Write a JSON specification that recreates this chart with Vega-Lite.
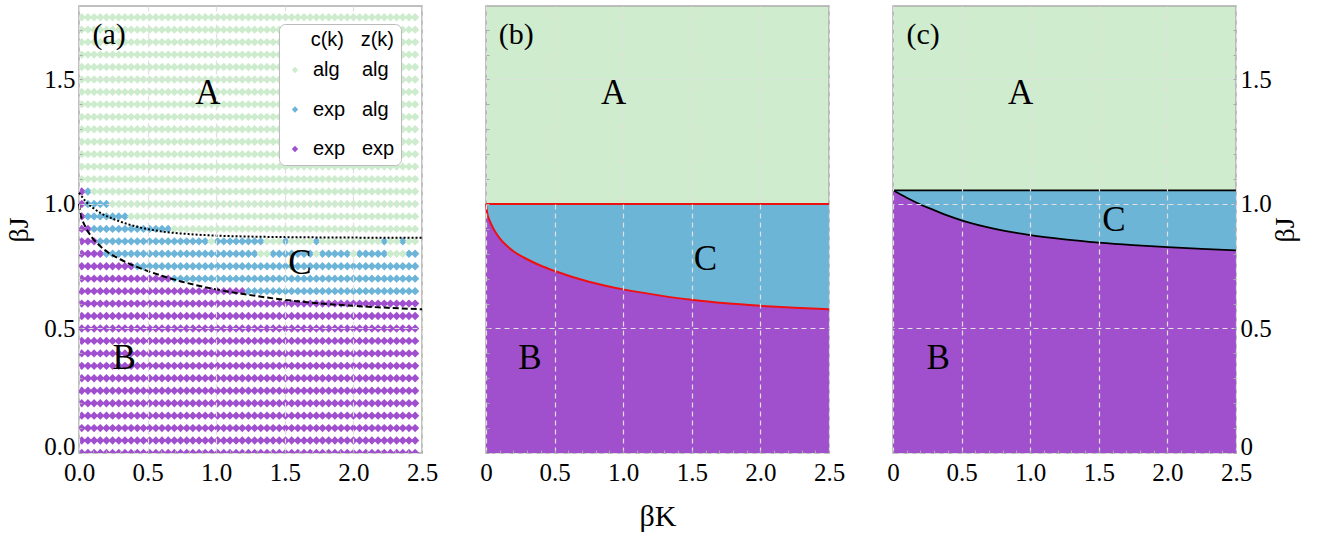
{
  "$schema": "https://vega.github.io/schema/vega-lite/v6.json",
  "background": "white",
  "padding": {"left": 5, "top": 5, "right": 5, "bottom": 5},
  "bounds": "flush",
  "spacing": 64,
  "datasets": {
    "grid": [
      {"c": "A", "j": [1.1,1.15,1.2,1.25,1.3,1.35,1.4,1.45,1.5,1.55,1.6,1.65,1.7,1.75], "k": [0.02,0.065,0.11,0.155,0.2,0.245,0.29,0.335,0.38,0.425,0.47,0.515,0.56,0.605,0.65,0.695,0.74,0.785,0.83,0.875,0.92,0.965,1.01,1.055,1.1,1.145,1.19,1.235,1.28,1.325,1.37,1.415,1.46,1.505,1.55,1.595,1.64,1.685,1.73,1.775,1.82,1.865,1.91,1.955,2.0,2.045,2.09,2.135,2.18,2.225,2.27,2.315,2.36,2.405,2.45]},
      {"c": "B", "j": [0,0.05,0.1,0.15,0.2,0.25,0.3,0.35,0.4,0.45,0.5,0.55,0.6], "k": [0.02,0.065,0.11,0.155,0.2,0.245,0.29,0.335,0.38,0.425,0.47,0.515,0.56,0.605,0.65,0.695,0.74,0.785,0.83,0.875,0.92,0.965,1.01,1.055,1.1,1.145,1.19,1.235,1.28,1.325,1.37,1.415,1.46,1.505,1.55,1.595,1.64,1.685,1.73,1.775,1.82,1.865,1.91,1.955,2.0,2.045,2.09,2.135,2.18,2.225,2.27,2.315,2.36,2.405,2.45]},
      {"c": "B", "j": [1.05], "k": [0.02]},
      {"c": "C", "j": [1.05], "k": [0.065]},
      {"c": "A", "j": [1.05], "k": [0.11,0.155,0.2,0.245,0.29,0.335,0.38,0.425,0.47,0.515,0.56,0.605,0.65,0.695,0.74,0.785,0.83,0.875,0.92,0.965,1.01,1.055,1.1,1.145,1.19,1.235,1.28,1.325,1.37,1.415,1.46,1.505,1.55,1.595,1.64,1.685,1.73,1.775,1.82,1.865,1.91,1.955,2.0,2.045,2.09,2.135,2.18,2.225,2.27,2.315,2.36,2.405,2.45]},
      {"c": "B", "j": [1.0], "k": [0.02]},
      {"c": "C", "j": [1.0], "k": [0.065,0.11,0.155,0.2]},
      {"c": "A", "j": [1.0], "k": [0.245,0.29,0.335,0.38,0.425,0.47,0.515,0.56,0.605,0.65,0.695,0.74,0.785,0.83,0.875,0.92,0.965,1.01,1.055,1.1,1.145,1.19,1.235,1.28,1.325,1.37,1.415,1.46,1.505,1.55,1.595,1.64,1.685,1.73,1.775,1.82,1.865,1.91,1.955,2.0,2.045,2.09,2.135,2.18,2.225,2.27,2.315,2.36,2.405,2.45]},
      {"c": "B", "j": [0.95], "k": [0.02]},
      {"c": "C", "j": [0.95], "k": [0.065,0.11,0.155,0.2,0.245,0.29,0.335]},
      {"c": "A", "j": [0.95], "k": [0.38,0.425,0.47,0.515,0.56,0.605,0.65,0.695,0.74,0.785,0.83,0.875,0.92,0.965,1.01,1.055,1.1,1.145,1.19,1.235,1.28,1.325,1.37,1.415,1.46,1.505,1.55,1.595,1.64,1.685,1.73,1.775,1.82,1.865,1.91,1.955,2.0,2.045,2.09,2.135,2.18,2.225,2.27,2.315,2.36,2.405,2.45]},
      {"c": "B", "j": [0.9], "k": [0.02,0.065]},
      {"c": "C", "j": [0.9], "k": [0.11,0.155,0.2,0.245,0.29,0.335,0.38,0.425,0.47,0.515,0.56,0.605,0.65]},
      {"c": "A", "j": [0.9], "k": [0.695,0.74,0.785,0.83,0.875,0.92,0.965,1.01,1.055,1.1,1.145,1.19,1.235,1.28,1.325,1.37,1.415,1.46,1.505,1.55,1.595,1.64,1.685,1.73,1.775,1.82,1.865,1.91,1.955,2.0,2.045,2.09,2.135,2.18,2.225,2.27,2.315,2.36,2.405,2.45]},
      {"c": "B", "j": [0.85], "k": [0.02,0.065,0.11]},
      {"c": "C", "j": [0.85], "k": [0.155,0.2,0.245,0.29,0.335,0.38,0.425,0.47,0.515,0.56,0.605,0.65,0.695,0.74,0.785,0.83,0.875,0.92,1.01,1.055,1.1,1.145,1.19,1.235,1.28,1.325,1.505,1.73,2.225,2.36]},
      {"c": "A", "j": [0.85], "k": [0.965,1.37,1.415,1.46,1.55,1.595,1.64,1.685,1.775,1.82,1.865,1.91,1.955,2.0,2.045,2.09,2.135,2.18,2.27,2.315,2.405,2.45]},
      {"c": "B", "j": [0.8], "k": [0.02,0.065,0.11,0.155]},
      {"c": "C", "j": [0.8], "k": [0.2,0.245,0.29,0.335,0.38,0.425,0.47,0.515,0.56,0.605,0.65,0.695,0.74,0.785,0.83,0.875,0.92,0.965,1.01,1.055,1.1,1.145,1.19,1.235,1.28,1.415,1.46,1.505,1.55,1.595,1.64,1.685,1.775,1.82,1.865,1.91,1.955,2.045,2.09,2.135,2.18,2.225,2.405,2.45]},
      {"c": "A", "j": [0.8], "k": [1.325,1.37,1.73,2.0,2.27,2.315,2.36]},
      {"c": "B", "j": [0.75], "k": [0.02,0.065,0.11,0.155,0.2,0.245,0.29,0.335,0.38]},
      {"c": "C", "j": [0.75], "k": [0.425,0.47,0.515,0.56,0.605,0.65,0.695,0.74,0.785,0.83,0.875,0.92,0.965,1.01,1.055,1.1,1.145,1.19,1.235,1.28,1.325,1.37,1.415,1.46,1.505,1.55,1.595,1.64,1.685,1.73,1.775,1.82,1.865,1.91,1.955,2.0,2.045,2.09,2.135,2.18,2.225,2.27,2.315,2.36,2.405,2.45]},
      {"c": "B", "j": [0.7], "k": [0.02,0.065,0.11,0.155,0.2,0.245,0.29,0.335,0.38,0.425,0.47,0.515,0.56,0.605,0.65]},
      {"c": "C", "j": [0.7], "k": [0.695,0.74,0.785,0.83,0.875,0.92,0.965,1.01,1.055,1.1,1.145,1.19,1.235,1.28,1.325,1.37,1.415,1.46,1.505,1.55,1.595,1.64,1.685,1.73,1.775,1.82,1.865,1.91,1.955,2.0,2.045,2.09,2.135,2.18,2.225,2.27,2.315,2.36,2.405,2.45]},
      {"c": "B", "j": [0.65], "k": [0.02,0.065,0.11,0.155,0.2,0.245,0.29,0.335,0.38,0.425,0.47,0.515,0.56,0.605,0.65,0.695,0.74,0.785,0.83,0.875,0.92,0.965,1.01,1.055,1.1,1.145,1.19]},
      {"c": "C", "j": [0.65], "k": [1.235,1.28,1.325,1.37,1.415,1.46,1.505,1.55,1.595,1.64,1.685,1.73,1.775,1.82,1.865,1.91,1.955,2.0,2.045,2.09,2.135,2.18,2.225,2.27,2.315,2.36,2.405,2.45]}
    ],
    "lower": [
      {"k": 0, "j": 1.0}, {"k": 0.01, "j": 0.96}, {"k": 0.025, "j": 0.935}, {"k": 0.05, "j": 0.905},
      {"k": 0.1, "j": 0.862}, {"k": 0.15, "j": 0.833}, {"k": 0.2, "j": 0.81}, {"k": 0.3, "j": 0.778},
      {"k": 0.4, "j": 0.752}, {"k": 0.5, "j": 0.731}, {"k": 0.75, "j": 0.688}, {"k": 1.0, "j": 0.657},
      {"k": 1.25, "j": 0.634}, {"k": 1.5, "j": 0.615}, {"k": 1.75, "j": 0.601}, {"k": 2.0, "j": 0.591},
      {"k": 2.25, "j": 0.583}, {"k": 2.5, "j": 0.577}
    ],
    "upperA": [
      {"k": 0, "j": 1.045}, {"k": 0.05, "j": 1.01}, {"k": 0.1, "j": 0.985}, {"k": 0.17, "j": 0.96},
      {"k": 0.25, "j": 0.94}, {"k": 0.35, "j": 0.92}, {"k": 0.45, "j": 0.905}, {"k": 0.6, "j": 0.89},
      {"k": 0.8, "j": 0.879}, {"k": 1.0, "j": 0.873}, {"k": 1.25, "j": 0.869}, {"k": 1.5, "j": 0.867},
      {"k": 2.0, "j": 0.865}, {"k": 2.5, "j": 0.864}
    ],
    "bandB": [
      {"k": 0, "lo": 1.0, "hi": 1.0}, {"k": 0.01, "lo": 0.96, "hi": 1.0}, {"k": 0.025, "lo": 0.935, "hi": 1.0},
      {"k": 0.05, "lo": 0.905, "hi": 1.0}, {"k": 0.1, "lo": 0.862, "hi": 1.0}, {"k": 0.15, "lo": 0.833, "hi": 1.0},
      {"k": 0.2, "lo": 0.81, "hi": 1.0}, {"k": 0.3, "lo": 0.778, "hi": 1.0}, {"k": 0.4, "lo": 0.752, "hi": 1.0},
      {"k": 0.5, "lo": 0.731, "hi": 1.0}, {"k": 0.75, "lo": 0.688, "hi": 1.0}, {"k": 1.0, "lo": 0.657, "hi": 1.0},
      {"k": 1.25, "lo": 0.634, "hi": 1.0}, {"k": 1.5, "lo": 0.615, "hi": 1.0}, {"k": 1.75, "lo": 0.601, "hi": 1.0},
      {"k": 2.0, "lo": 0.591, "hi": 1.0}, {"k": 2.25, "lo": 0.583, "hi": 1.0}, {"k": 2.5, "lo": 0.577, "hi": 1.0}
    ],
    "bandC": [
      {"k": 0, "lo": 1.055, "hi": 1.055}, {"k": 0.1, "lo": 1.025, "hi": 1.055}, {"k": 0.2, "lo": 0.998, "hi": 1.055},
      {"k": 0.3, "lo": 0.975, "hi": 1.055}, {"k": 0.4, "lo": 0.953, "hi": 1.055}, {"k": 0.5, "lo": 0.934, "hi": 1.055},
      {"k": 0.75, "lo": 0.899, "hi": 1.055}, {"k": 1.0, "lo": 0.875, "hi": 1.055}, {"k": 1.25, "lo": 0.858, "hi": 1.055},
      {"k": 1.5, "lo": 0.845, "hi": 1.055}, {"k": 1.75, "lo": 0.835, "hi": 1.055}, {"k": 2.0, "lo": 0.827, "hi": 1.055},
      {"k": 2.25, "lo": 0.82, "hi": 1.055}, {"k": 2.5, "lo": 0.814, "hi": 1.055}
    ]
  },
  "config": {
    "view": {"stroke": "#aaaaaa", "strokeWidth": 1.5}
  },
  "hconcat": [
    {
      "width": 343, "height": 447,
      "layer": [
        {
          "data": {"name": "grid"},
          "transform": [{"flatten": ["j"]}, {"flatten": ["k"]}],
          "mark": {"type": "point", "shape": "diamond", "filled": true, "size": 70, "opacity": 1, "clip": true},
          "encoding": {
            "x": {"field": "k", "type": "quantitative", "scale": {"domain": [0, 2.5], "nice": false, "zero": false},
              "axis": {"title": null, "tickCount": 100, "values": [0,0.1,0.2,0.3,0.4,0.5,0.6,0.7,0.8,0.9,1,1.1,1.2,1.3,1.4,1.5,1.6,1.7,1.8,1.9,2,2.1,2.2,2.3,2.4,2.5],
                "labelExpr": "abs(datum.value*2-round(datum.value*2))<0.001 ? format(datum.value,'.1f') : ''",
                "gridOpacity": {"condition": {"test": "abs(datum.value*2-round(datum.value*2))<0.001", "value": 1}, "value": 0},
                "labelFont": "Liberation Serif", "labelFontSize": 25, "labelColor": "black", "labelPadding": 10,
                "domain": false, "grid": true, "gridColor": "#e0e0e0", "gridDash": [5, 4], "gridWidth": 1.2,
                "ticks": true, "tickColor": "#aaaaaa", "tickSize": -3, "labelOverlap": false, "labelFlush": false, "labelBound": false, "zindex": 1}},
            "y": {"field": "j", "type": "quantitative", "scale": {"domain": [0, 1.795], "nice": false, "zero": false},
              "axis": {"title": "βJ", "tickCount": 100, "values": [0,0.1,0.2,0.3,0.4,0.5,0.6,0.7,0.8,0.9,1,1.1,1.2,1.3,1.4,1.5,1.6,1.7],
                "labelExpr": "abs(datum.value*2-round(datum.value*2))<0.001 ? format(datum.value,'.1f') : ''",
                "gridOpacity": {"condition": {"test": "abs(datum.value*2-round(datum.value*2))<0.001", "value": 1}, "value": 0},
                "labelOffset": {"condition": {"test": "datum.value==0", "value": -7}, "value": 0},
                "labelFont": "Liberation Serif", "labelFontSize": 25, "labelColor": "black", "labelPadding": 7,
                "titleFont": "Liberation Serif", "titleFontSize": 28, "titleFontWeight": "normal", "titleColor": "black", "titlePadding": 10,
                "domain": false, "grid": true, "gridColor": "#e0e0e0", "gridDash": [5, 4], "gridWidth": 1.2,
                "ticks": true, "tickColor": "#aaaaaa", "tickSize": -3, "labelOverlap": false, "labelBound": false, "zindex": 1}},
            "color": {"field": "c", "type": "nominal",
              "scale": {"domain": ["A", "C", "B"], "range": ["#cdeccd", "#6cb4d8", "#a04fcf"]},
              "legend": {"orient": "none", "legendX": 200, "legendY": 18,
                "title": "c(k)\u00a0\u00a0\u00a0z(k)", "titleFont": "Liberation Sans", "titleFontSize": 20, "titleFontWeight": "normal", "titleColor": "black",
                "titleAnchor": "end", "titlePadding": 10,
                "labelFont": "Liberation Sans", "labelFontSize": 20, "labelColor": "black",
                "labelExpr": "datum.value=='A' ? 'alg\u00a0\u00a0\u00a0\u00a0alg' : datum.value=='C' ? 'exp\u00a0\u00a0\u00a0alg' : 'exp\u00a0\u00a0\u00a0exp'",
                "symbolType": "diamond", "symbolSize": 40, "symbolStrokeWidth": 0, "rowPadding": 19.5, "labelOffset": 8,
                "padding": 6, "fillColor": "white", "strokeColor": "#bbbbbb", "cornerRadius": 6}}
          }
        },
        {
          "data": {"name": "upperA"},
          "mark": {"type": "line", "color": "black", "strokeWidth": 2, "strokeDash": [2, 2], "interpolate": "monotone"},
          "encoding": {"x": {"field": "k", "type": "quantitative"}, "y": {"field": "j", "type": "quantitative"}}
        },
        {
          "data": {"name": "lower"},
          "mark": {"type": "line", "color": "black", "strokeWidth": 2, "strokeDash": [6, 3], "interpolate": "monotone"},
          "encoding": {"x": {"field": "k", "type": "quantitative"}, "y": {"field": "j", "type": "quantitative"}}
        },
        {
          "data": {"values": [
            {"k": 0.22, "j": 1.68, "t": "(a)", "s": "p"},
            {"k": 0.94, "j": 1.444, "t": "A", "s": "r"},
            {"k": 0.33, "j": 0.383, "t": "B", "s": "r"},
            {"k": 1.61, "j": 0.761, "t": "C", "s": "r"}
          ]},
          "mark": {"type": "text", "baseline": "middle", "align": "center", "font": "Liberation Serif", "color": "black"},
          "encoding": {
            "x": {"field": "k", "type": "quantitative"}, "y": {"field": "j", "type": "quantitative"},
            "text": {"field": "t"},
            "size": {"field": "s", "type": "nominal", "scale": {"domain": ["p", "r"], "range": [30, 35]}, "legend": null}
          }
        }
      ]
    },
    {
      "width": 343, "height": 447,
      "view": {"fill": "#cfeccf"},
      "layer": [
        {
          "data": {"name": "bandB"},
          "mark": {"type": "area", "color": "#a050cc", "interpolate": "monotone", "opacity": 1},
          "encoding": {
            "x": {"field": "k", "type": "quantitative", "scale": {"domain": [0, 2.5], "nice": false, "zero": false},
              "axis": {"title": "βK", "tickCount": 100, "values": [0,0.1,0.2,0.3,0.4,0.5,0.6,0.7,0.8,0.9,1,1.1,1.2,1.3,1.4,1.5,1.6,1.7,1.8,1.9,2,2.1,2.2,2.3,2.4,2.5],
                "labelExpr": "datum.value==0 ? '0' : abs(datum.value*2-round(datum.value*2))<0.001 ? format(datum.value,'.1f') : ''",
                "gridOpacity": {"condition": {"test": "abs(datum.value*2-round(datum.value*2))<0.001", "value": 1}, "value": 0},
                "labelFont": "Liberation Serif", "labelFontSize": 25, "labelColor": "black", "labelPadding": 10,
                "titleFont": "Liberation Serif", "titleFontSize": 30, "titleFontWeight": "normal", "titleColor": "black", "titlePadding": 16,
                "domain": false, "grid": true, "gridColor": "#e0e0e0", "gridDash": [5, 4], "gridWidth": 1.2,
                "ticks": true, "tickColor": "#aaaaaa", "tickSize": -3, "labelOverlap": false, "labelFlush": false, "labelBound": false, "zindex": 1}},
            "y": {"field": "lo", "type": "quantitative", "scale": {"domain": [0, 1.795], "nice": false, "zero": false},
              "axis": {"title": null, "labels": false, "tickCount": 100, "values": [0,0.1,0.2,0.3,0.4,0.5,0.6,0.7,0.8,0.9,1,1.1,1.2,1.3,1.4,1.5,1.6,1.7],
                "gridOpacity": {"condition": {"test": "abs(datum.value*2-round(datum.value*2))<0.001 && abs(datum.value-1)>0.01", "value": 1}, "value": 0},
                "domain": false, "grid": true, "gridColor": "#e0e0e0", "gridDash": [5, 4], "gridWidth": 1.2,
                "ticks": true, "tickColor": "#aaaaaa", "tickSize": -3, "zindex": 1}},
            "y2": {"datum": 0}
          }
        },
        {
          "data": {"name": "bandB"},
          "mark": {"type": "area", "color": "#6db5d7", "interpolate": "monotone", "opacity": 1},
          "encoding": {
            "x": {"field": "k", "type": "quantitative"},
            "y": {"field": "lo", "type": "quantitative"},
            "y2": {"field": "hi"}
          }
        },
        {
          "data": {"name": "bandB"},
          "mark": {"type": "line", "color": "#ee1111", "strokeWidth": 2, "interpolate": "monotone"},
          "encoding": {"x": {"field": "k", "type": "quantitative"}, "y": {"field": "lo", "type": "quantitative"}}
        },
        {
          "data": {"name": "bandB"},
          "mark": {"type": "line", "color": "#ee1111", "strokeWidth": 2},
          "encoding": {"x": {"field": "k", "type": "quantitative"}, "y": {"field": "hi", "type": "quantitative"}}
        },
        {
          "data": {"values": [
            {"k": 0.22, "j": 1.68, "t": "(b)", "s": "p"},
            {"k": 0.93, "j": 1.445, "t": "A", "s": "r"},
            {"k": 0.32, "j": 0.383, "t": "B", "s": "r"},
            {"k": 1.6, "j": 0.78, "t": "C", "s": "r"}
          ]},
          "mark": {"type": "text", "baseline": "middle", "align": "center", "font": "Liberation Serif", "color": "black"},
          "encoding": {
            "x": {"field": "k", "type": "quantitative"}, "y": {"field": "j", "type": "quantitative"},
            "text": {"field": "t"},
            "size": {"field": "s", "type": "nominal", "scale": {"domain": ["p", "r"], "range": [30, 35]}, "legend": null}
          }
        }
      ]
    },
    {
      "width": 343, "height": 447,
      "view": {"fill": "#cfeccf"},
      "layer": [
        {
          "data": {"name": "bandC"},
          "mark": {"type": "area", "color": "#a050cc", "interpolate": "monotone", "opacity": 1},
          "encoding": {
            "x": {"field": "k", "type": "quantitative", "scale": {"domain": [0, 2.5], "nice": false, "zero": false},
              "axis": {"title": null, "tickCount": 100, "values": [0,0.1,0.2,0.3,0.4,0.5,0.6,0.7,0.8,0.9,1,1.1,1.2,1.3,1.4,1.5,1.6,1.7,1.8,1.9,2,2.1,2.2,2.3,2.4,2.5],
                "labelExpr": "datum.value==0 ? '0' : abs(datum.value*2-round(datum.value*2))<0.001 ? format(datum.value,'.1f') : ''",
                "gridOpacity": {"condition": {"test": "abs(datum.value*2-round(datum.value*2))<0.001", "value": 1}, "value": 0},
                "labelFont": "Liberation Serif", "labelFontSize": 25, "labelColor": "black", "labelPadding": 10,
                "domain": false, "grid": true, "gridColor": "#e0e0e0", "gridDash": [5, 4], "gridWidth": 1.2,
                "ticks": true, "tickColor": "#aaaaaa", "tickSize": -3, "labelOverlap": false, "labelFlush": false, "labelBound": false, "zindex": 1}},
            "y": {"field": "lo", "type": "quantitative", "scale": {"domain": [0, 1.795], "nice": false, "zero": false},
              "axis": {"title": "βJ", "orient": "right", "titleAngle": 270, "tickCount": 100, "values": [0,0.1,0.2,0.3,0.4,0.5,0.6,0.7,0.8,0.9,1,1.1,1.2,1.3,1.4,1.5,1.6,1.7],
                "labelExpr": "datum.value==0 ? '0' : abs(datum.value*2-round(datum.value*2))<0.001 ? format(datum.value,'.1f') : ''",
                "gridOpacity": {"condition": {"test": "abs(datum.value*2-round(datum.value*2))<0.001", "value": 1}, "value": 0},
                "labelOffset": {"condition": {"test": "datum.value==0", "value": -7}, "value": 0},
                "labelFont": "Liberation Serif", "labelFontSize": 25, "labelColor": "black", "labelPadding": 7,
                "titleFont": "Liberation Serif", "titleFontSize": 28, "titleFontWeight": "normal", "titleColor": "black", "titlePadding": 28,
                "domain": false, "grid": true, "gridColor": "#e0e0e0", "gridDash": [5, 4], "gridWidth": 1.2,
                "ticks": true, "tickColor": "#aaaaaa", "tickSize": -3, "labelOverlap": false, "labelBound": false, "zindex": 1}},
            "y2": {"datum": 0}
          }
        },
        {
          "data": {"name": "bandC"},
          "mark": {"type": "area", "color": "#6db5d7", "interpolate": "monotone", "opacity": 1},
          "encoding": {
            "x": {"field": "k", "type": "quantitative"},
            "y": {"field": "lo", "type": "quantitative"},
            "y2": {"field": "hi"}
          }
        },
        {
          "data": {"name": "bandC"},
          "mark": {"type": "line", "color": "black", "strokeWidth": 1.8, "interpolate": "monotone"},
          "encoding": {"x": {"field": "k", "type": "quantitative"}, "y": {"field": "lo", "type": "quantitative"}}
        },
        {
          "data": {"name": "bandC"},
          "mark": {"type": "line", "color": "black", "strokeWidth": 1.8},
          "encoding": {"x": {"field": "k", "type": "quantitative"}, "y": {"field": "hi", "type": "quantitative"}}
        },
        {
          "data": {"values": [
            {"k": 0.22, "j": 1.68, "t": "(c)", "s": "p"},
            {"k": 0.93, "j": 1.445, "t": "A", "s": "r"},
            {"k": 0.33, "j": 0.383, "t": "B", "s": "r"},
            {"k": 1.61, "j": 0.936, "t": "C", "s": "r"}
          ]},
          "mark": {"type": "text", "baseline": "middle", "align": "center", "font": "Liberation Serif", "color": "black"},
          "encoding": {
            "x": {"field": "k", "type": "quantitative"}, "y": {"field": "j", "type": "quantitative"},
            "text": {"field": "t"},
            "size": {"field": "s", "type": "nominal", "scale": {"domain": ["p", "r"], "range": [30, 35]}, "legend": null}
          }
        }
      ]
    }
  ]
}
